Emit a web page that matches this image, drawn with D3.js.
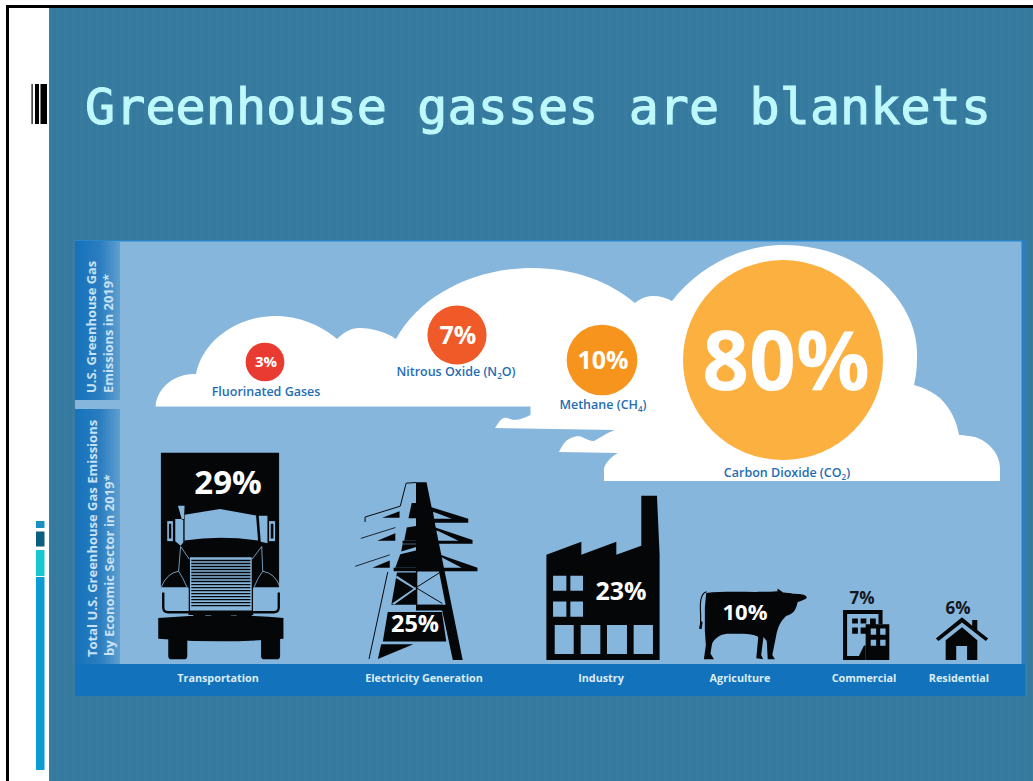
<!DOCTYPE html>
<html>
<head>
<meta charset="utf-8">
<script src="https://cdn.jsdelivr.net/npm/d3@7"></script>
<style>
html,body{margin:0;padding:0;background:#fff;overflow:hidden}
svg{display:block}
text{font-family:"Open Sans",sans-serif;font-weight:700}
</style>
</head>
<body>
<svg id="chart" width="1033" height="781"></svg>
<script>
// Values
const titleText = "Greenhouse gasses are blankets";
const gasNames = ["Fluorinated Gases", "Nitrous Oxide (N₂O)", "Methane (CH₄)", "Carbon Dioxide (CO₂)"];
const gasValues = [3, 7, 10, 80];
const sectorNames = ["Transportation", "Electricity Generation", "Industry", "Agriculture", "Commercial", "Residential"];
const sectorValues = [29, 25, 23, 10, 7, 6];
const gasPanelLines = ["U.S. Greenhouse Gas", "Emissions in 2019*"];
const sectorPanelLines = ["Total U.S. Greenhouse Gas Emissions", "by Economic Sector in 2019*"];

// Layout
const COL = {panel:"#86b6dc", band:"#1272bc", ink:"#050608", gasText:"#1f6db3", title:"#bdf8fb", sideText:"#c9e2f3"};
const gasX = d3.scaleOrdinal(gasNames, [265, 457, 602, 783]);
const gasY = d3.scaleOrdinal(gasNames, [362, 335, 360, 360]);
const gasFill = d3.scaleOrdinal(gasNames, ["#ea3b33", "#f05a28", "#f7941e", "#fbb040"]);
const gasLabelX = d3.scaleOrdinal(gasNames, [266, 456, 603, 787]);
const gasLabelY = d3.scaleOrdinal(gasNames, [396, 376, 409, 477]);
const gasValueSize = d3.scaleOrdinal(gasNames, [15, 25, 25, 82]);
const radius = d3.scaleSqrt().domain([0, 80]).range([0, 100]);
const iconHeight = d3.scaleLinear().domain([0, 29]).range([0, 207]);
const sectorX = d3.scaleOrdinal(sectorNames, [221, 417, 603, 753, 866, 962]);
const sectorLabelX = d3.scaleOrdinal(sectorNames, [218, 424, 601, 740, 864, 959]);
const valueX = d3.scaleOrdinal(sectorNames, [228, 415, 621, 745, 862, 958]);
const valueY = d3.scaleOrdinal(sectorNames, [494, 632, 600, 620, 604, 614]);
const valueSize = d3.scaleOrdinal(sectorNames, [33, 23.5, 25, 22, 17, 17]);
const valueFill = d3.scaleOrdinal(sectorNames, ["#fff", "#fff", "#fff", "#fff", "#14181c", "#14181c"]);
const baseline = 660;

const svg = d3.select("#chart");
const defs = svg.append("defs");

// Faintly striped slide background
const stripes = defs.append("pattern").attr("id", "stripes").attr("patternUnits", "userSpaceOnUse")
  .attr("width", 8).attr("height", 8);
stripes.append("rect").attr("width", 8).attr("height", 8).attr("fill", "#34799e");
stripes.append("rect").attr("width", 4).attr("height", 8).attr("fill", "#3a7c9f");

const sideGrad = defs.append("linearGradient").attr("id", "side");
sideGrad.append("stop").attr("offset", 0).attr("stop-color", "#1672bb");
sideGrad.append("stop").attr("offset", 0.55).attr("stop-color", "#2a7dc0");
sideGrad.append("stop").attr("offset", 1).attr("stop-color", "#5f9fd0");

// Slide frame
svg.append("rect").attr("width", 1033).attr("height", 781).attr("fill", "#fff");
svg.append("rect").attr("x", 49).attr("y", 8).attr("width", 984).attr("height", 773).attr("fill", "url(#stripes)");
svg.append("path").attr("d", "M7.5,781V6.5H1033").attr("fill", "none").attr("stroke", "#000").attr("stroke-width", 3);

// Slide decorations on the white margin
svg.append("g").selectAll("rect")
  .data([[31.5,1.2],[35,4],[40.5,6.5]])
  .join("rect").attr("x", d => d[0]).attr("y", 84).attr("width", d => d[1]).attr("height", 40).attr("fill", "#000");
svg.append("g").selectAll("rect")
  .data([[521,7,"#1a8fc2"],[531.5,15,"#0b5f7e"],[550,26,"#17c6ce"],[577,193,"#0b9cd3"]])
  .join("rect").attr("x", 36).attr("y", d => d[0]).attr("width", 8.5).attr("height", d => d[1]).attr("fill", d => d[2]);

svg.append("text").text(titleText)
  .attr("x", 85).attr("y", 124)
  .attr("textLength", 906).attr("lengthAdjust", "spacing")
  .style("font-family", '"DejaVu Sans Mono",monospace').style("font-weight", 400)
  .attr("font-size", 50).attr("fill", COL.title)
  .attr("stroke", COL.title).attr("stroke-width", 1.1);

// Infographic panel
svg.append("rect").attr("x", 75).attr("y", 240).attr("width", 950).attr("height", 456).attr("fill", COL.panel);
svg.append("rect").attr("x", 75).attr("y", 240).attr("width", 950).attr("height", 1.5).attr("fill", "#2a86c6");
svg.append("rect").attr("x", 1021.5).attr("y", 240).attr("width", 3.5).attr("height", 456).attr("fill", "#2a7fc2");
svg.append("rect").attr("x", 75).attr("y", 241).attr("width", 45).attr("height", 159).attr("fill", "url(#side)");
svg.append("rect").attr("x", 75).attr("y", 409).attr("width", 45).attr("height", 256).attr("fill", "url(#side)");
svg.append("rect").attr("x", 75).attr("y", 664).attr("width", 950).attr("height", 32).attr("fill", COL.band);

function sideLines(lines, xs, ys, size) {
  lines.forEach((line, i) => {
    svg.append("text").text(line)
      .attr("transform", `translate(${xs[i]},${ys[i]}) rotate(-90)`)
      .attr("font-size", size).attr("fill", COL.sideText);
  });
}
sideLines(gasPanelLines, [96, 113], [393, 393], 12.9);
sideLines(sectorPanelLines, [96.5, 114], [657, 656], 13);

// Cloud bank behind the gas circles
const cloudLine = [
  "M155.7,406.5 C156,391 172,373 196,374 C203,340 238,316 275,316 C300,316 322,326 337,339",
  "C346,330 353,328 360,328 C372,328 386,332 396,339 C420,295 475,268 532,268 C575,268 610,282 635,303",
  "C642,297 648,296 654,296 C660,296 667,298 672,301 C700,265 742,245 784,245 C860,245 920,300 917,358",
  "C917,368 916,376 914,385 C925,388 934,393 940,398 C951,409 957,422 959,435 C962,435 970,436 975,437",
  "C990,442 1000,455 1000,468 L1000,481 L604,481 L604,468 C606,462 612,456 618,453 L559,452",
  "C562,446 565,440 571,438 C575,436 580,436 582,437 C586,439 590,441 594,441 C600,438 608,432 615,430",
  "L495,428 C498,424 500,419 504,418 C507,417 511,420 514,420 C520,420 526,417 530.5,415 L530.5,406.5 Z"
].join(" ");
svg.append("path").attr("d", cloudLine).attr("fill", "#fff");

// Gas circles sized by share
const gas = svg.append("g").selectAll("g").data(gasNames.map((n, i) => ({name:n, value:gasValues[i]}))).join("g");
gas.append("circle")
  .attr("cx", d => gasX(d.name)).attr("cy", d => gasY(d.name))
  .attr("r", d => radius(d.value)).attr("fill", d => gasFill(d.name));
gas.append("text").text(d => d.value + "%")
  .attr("x", d => gasX(d.name) + (d.value === 80 ? 3 : 1)).attr("y", d => gasY(d.name))
  .attr("dy", "0.36em").attr("text-anchor", "middle")
  .attr("font-size", d => gasValueSize(d.name)).attr("fill", "#fff");
gas.append("text")
  .attr("x", d => gasLabelX(d.name)).attr("y", d => gasLabelY(d.name))
  .attr("text-anchor", "middle").attr("font-size", 12.5).style("font-weight", 600).attr("fill", COL.gasText)
  .each(function(d) {
    const t = d3.select(this);
    const m = d.name.match(/^(.*)([₂₄])(.*)$/);
    if (!m) { t.text(d.name); return; }
    t.append("tspan").text(m[1]);
    t.append("tspan").text(m[2] === "₂" ? "2" : "4").attr("font-size", 8).attr("dy", 3);
    t.append("tspan").text(m[3]).attr("dy", -3);
  });

// Sector pictograms. Each is a stack of [path, layer, stroke width], drawn in its own design units.
const gridBars = d3.range(182, 322, 9).map(y => `M124,${y}H301`).join("");
const icons = {
  Transportation: {cx:213, bottom:480, h:620, parts:[
    ["M33,-141H387V262H33Z","k"],
    ["M115,118H310V345H115Z","k"],
    // side gaps around the headlights
    ["M28,265H116V343H28ZM309,265H395V343H309Z","p"],
    ["M40,278V322Q40,337 55,337H125","ks",7],
    ["M386,278V322Q386,337 371,337H300","ks",7],
    ["M25,354Q210,338 400,354V416Q210,432 25,416Z","k"],
    ["M55,410H112V468Q112,478 102,478H65Q55,478 55,468Z","k"],
    ["M333,410H390V468Q390,478 380,478H343Q333,478 333,468Z","k"],
    // windshield, mirrors and arms
    ["M104,45L210,28L318,47L324,122Q210,106 104,122Z","p"],
    ["M84,18H104L102,58H76V124L92,138L100,128V60L96,60Z","p"],
    ["M52,64H69V124H52Z","p"],
    ["M57,72H64V116H57Z","k"],
    ["M326,48H352V130L332,126Z","p"],
    ["M357,64H375V124H357Z","p"],
    ["M362,72H370V116H362Z","k"],
    // fenders and hood edges
    ["M34,262Q50,220 86,214Q100,235 111,262","s",2.5],
    ["M92,140L118,178M92,140L86,214","s",2.5],
    ["M390,262Q375,220 338,214Q322,235 312,262","s",2.5],
    ["M335,140L306,178M335,140L338,214","s",2.5],
    // grille
    ["M120,172H305V332H120Z","p"],
    [gridBars,"ks",4],
    ["M130,333H166V349H130ZM184,333H243V349H184ZM260,333H305V349H260Z","k"]
  ]},
  "Electricity Generation": {cx:216, bottom:568, h:543, parts:[
    ["M213,27L245,27L355,568L325,568L290,405H213Z","k"],
    ["M213,28L183,30L165,100L58,133V148","ks",3],
    // left cross-arms
    ["M110,135L163,115V135Z","k"],
    ["M95,205L150,182V205Z","k"],
    ["M80,287L133,265V287Z","k"],
    ["M45,198L150,165","ks",2.5],
    ["M28,283L133,248","ks",2.5],
    // right cross-arms
    ["M250,100L372,138V150H255Z","k"],
    ["M265,117L322,138H268Z","p"],
    ["M213,145L385,203V214H172V205H342L282,176L213,158Z","k"],
    ["M213,222L400,287V298H145V287H352L285,252L213,233Z","k"],
    // body blocks
    ["M200,90H213V137H190Z","k"],
    ["M185,165L213,160V205H177Z","k"],
    ["M172,216H213V224L168,238Z","k"],
    ["M165,246L213,235V287H150Z","k"],
    // lattice section
    ["M155,302H213V400H138Z","k"],
    ["M155,312L213,350L213,356L151,318ZM140,396L213,346L213,352L146,400Z","p"],
    ["M217,299H283L303,400H217Z","p"],
    ["M213,348L285,302M213,348L293,396M214,298V400","ks",3],
    ["M213,400H294L297,417H213Z","k"],
    ["M127,300L70,565","ks",3],
    // footing
    ["M127,422H292L305,512H112Z","k"],
    ["M107,520H205L97,565Z","k"]
  ]},
  Industry: {cx:220, bottom:538, h:493, parts:[
    ["M50,222L155,183V222L260,183V222L335,195V45H382L390,222V538H50Z","k"],
    ["M70,285H110V330H70ZM122,285H160V330H122ZM70,362H110V408H70ZM122,362H160V408H122Z","p"],
    ["M75,433H132V520H75ZM153,433H212V520H153ZM232,433H292V520H232ZM312,433H370V520H312Z","p"]
  ]},
  Agriculture: {cx:670, bottom:540, h:218, parts:[
    ["M528,332C512,335 507,360 510,400L510,438","ks",3.5],
    ["M510,420L505,444L513,446L516,425Z","k"],
    ["M527,335C590,328 680,335 745,330L745,322L762,334C775,336 785,335 792,338C810,338 833,340 834,348C833,356 815,358 806,364C802,385 795,400 772,405C755,420 745,440 740,470L729,525L737,538L715,538L712,482L702,470L695,525L701,538L680,535L686,470C670,458 630,460 590,460C570,462 552,475 545,490L540,520L551,538L520,538L526,495L523,450L523,380Z","k"]
  ]},
  Commercial: {cx:1006, bottom:538, h:148, parts:[
    ["M938,390H1055V432H1043V402H950V526H985L1000,495H1005V538H938Z","k"],
    ["M965,415H982V430H965ZM990,415H1007V430H990ZM965,442H982V460H965ZM990,442H1007V460H990Z","k"],
    ["M1005,432H1018V415H1035V432H1075V538H1005Z","k"],
    ["M1020,445H1036V463H1020ZM1048,445H1064V463H1048ZM1020,478H1036V496H1020ZM1048,478H1064V496H1048Z","p"]
  ]},
  Residential: {cx:1295, bottom:538, h:126, parts:[
    ["M1218,475L1295,412L1325,437V420H1340V450L1372,475L1365,482L1295,428L1226,482Z","k"],
    ["M1247,480L1295,442L1340,480V538H1310V497H1278V538H1247Z","k"]
  ]}
};

const sectors = svg.append("g").selectAll("g")
  .data(sectorNames.map((n, i) => ({name:n, value:sectorValues[i]}))).join("g");

sectors.append("g")
  .attr("transform", d => {
    const ic = icons[d.name];
    const s = iconHeight(d.value) / ic.h;
    return `translate(${sectorX(d.name)},${baseline}) scale(${s}) translate(${-ic.cx},${-ic.bottom})`;
  })
  .selectAll("path").data(d => icons[d.name].parts).join("path")
  .attr("d", p => p[0])
  .attr("fill", p => p[1] === "k" ? COL.ink : p[1] === "p" ? COL.panel : "none")
  .attr("stroke", p => p[1] === "s" ? COL.panel : p[1] === "ks" ? COL.ink : "none")
  .attr("stroke-width", p => p[2] || 0);

sectors.append("text").text(d => d.value + "%")
  .attr("x", d => valueX(d.name)).attr("y", d => valueY(d.name))
  .attr("text-anchor", "middle")
  .attr("font-size", d => valueSize(d.name)).attr("fill", d => valueFill(d.name));

sectors.append("text").text(d => d.name)
  .attr("x", d => sectorLabelX(d.name)).attr("y", 682)
  .attr("text-anchor", "middle").attr("font-size", 10.8).attr("fill", "#dcecf7");
</script>
</body>
</html>
